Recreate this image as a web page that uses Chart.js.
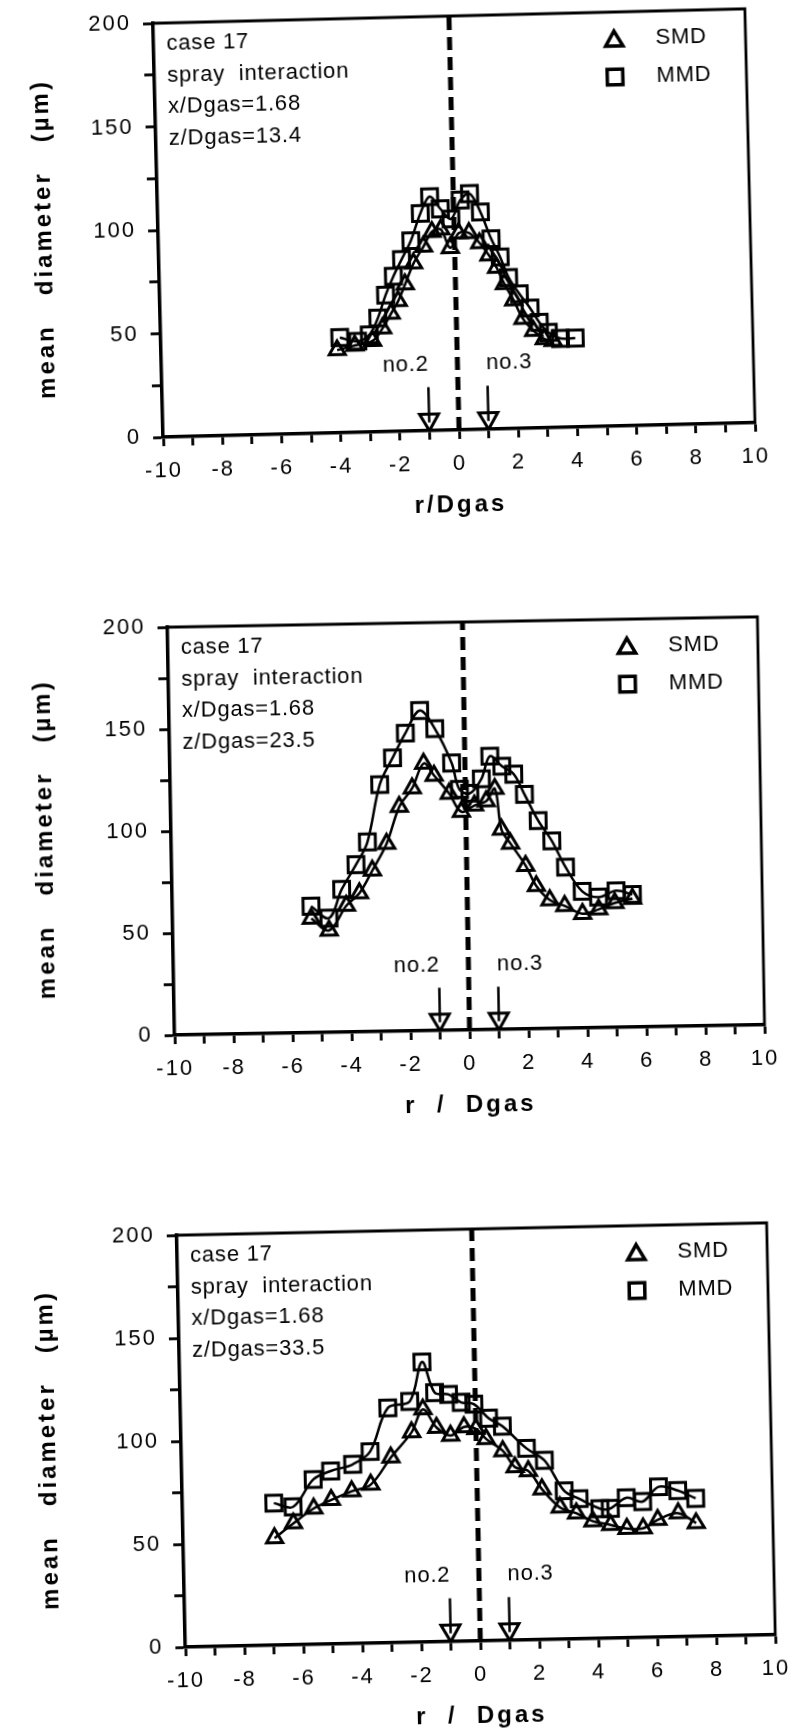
<!DOCTYPE html>
<html>
<head>
<meta charset="utf-8">
<script src="https://cdn.jsdelivr.net/npm/chart.js@4.4.1/dist/chart.umd.min.js"></script>
<style>
  body { margin: 0; background: #fff; width: 794px; height: 1729px; position: relative; overflow: hidden }
  canvas { position: absolute }
</style>
</head>
<body>
<canvas id="c1"></canvas>
<canvas id="c2"></canvas>
<canvas id="c3"></canvas>
<script>
// Axis labels
const xLabels = [-10, -8, -6, -4, -2, 0, 2, 4, 6, 8, 10]
const yLabels = [0, 50, 100, 150, 200]
const seriesNames = ['SMD', 'MMD']
const noteLines = ['case 17', 'spray  interaction', 'x/Dgas=1.68']
const zLines = ['z/Dgas=13.4', 'z/Dgas=23.5', 'z/Dgas=33.5']
const xTitles = ['r/Dgas', 'r  /  Dgas', 'r  /  Dgas']
const yTitle = 'mean   diameter   (\u00b5m)'

// probe markers (no.2 / no.3) and centre line
const probeNames = ['no.2', 'no.3']
const probeX = [-1, 1]
const probeLabelX = [-1.75, 1.75]
const probeLabelY = 32
const arrowTop = 21
const arrowEnd = 4
const arrowHead = 5.3

// panel 1: z/Dgas = 13.4
const r1Smd = [-4.05, -3.45, -2.85, -2.5, -2.2, -1.95, -1.7, -1.4, -1.05, -0.75, -0.45, -0.15, 0.15, 0.5, 0.85, 1.15, 1.4, 1.65, 1.95, 2.25, 2.6, 2.95, 3.25]
const d1Smd = [40, 42, 44, 50, 57, 63, 71, 81, 89, 96, 97, 88, 95, 95, 90, 84, 78, 70, 62, 53, 47, 43, 42]
const r1Mmd = [-3.95, -3.35, -2.95, -2.65, -2.37, -2.09, -1.8, -1.47, -1.13, -0.8, -0.45, -0.1, 0.23, 0.55, 0.9, 1.24, 1.53, 1.8, 2.15, 2.5, 2.8, 3.1, 3.5, 4.0]
const d1Mmd = [46, 44, 47, 55, 66, 75, 83, 92, 105, 113, 107, 102, 111, 114, 105, 92, 83, 73, 65, 58, 51, 46, 43, 43]

// panel 2: z/Dgas = 23.5
const r2Smd = [-5.3, -4.7, -4.1, -3.65, -3.2, -2.7, -2.25, -1.8, -1.4, -1.05, -0.55, -0.15, 0.3, 0.7, 1.0, 1.2, 1.5, 2.0, 2.35, 2.8, 3.3, 3.9, 4.45, 5.0, 5.6]
const d2Smd = [56, 50, 62, 68, 79, 92, 110, 119, 131, 125, 116, 107, 110, 112, 118, 98, 91, 80, 70, 63, 60, 56, 58, 61, 63]
const r2Mmd = [-5.3, -4.7, -4.25, -3.75, -3.35, -2.9, -2.45, -2.0, -1.5, -1.0, -0.45, -0.2, 0.15, 0.55, 0.85, 1.25, 1.65, 2.0, 2.45, 2.9, 3.35, 3.9, 4.45, 5.05, 5.6]
const d2Mmd = [62, 56, 70, 82, 93, 121, 134, 146, 157, 148, 131, 118, 116, 123, 134, 129, 125, 115, 102, 92, 79, 67, 64, 67, 65]

// panel 3: z/Dgas = 33.5
const r3Smd = [-6.9, -6.25, -5.55, -4.95, -4.25, -3.6, -2.9, -2.18, -1.78, -1.33, -0.86, -0.4, 0.0, 0.34, 0.9, 1.3, 1.75, 2.2, 2.8, 3.35, 3.9, 4.5, 5.05, 5.6, 6.1, 6.8, 7.4]
const d3Smd = [52, 59, 66, 70, 74, 77, 90, 102, 113, 104, 100, 104, 103, 98, 92, 84, 82, 73, 64, 61, 57, 55, 53, 53, 57, 60, 55]
const r3Mmd = [-6.9, -6.25, -5.55, -4.95, -4.2, -3.6, -2.97, -2.22, -1.78, -1.37, -0.9, -0.48, -0.05, 0.44, 0.9, 1.7, 2.3, 2.95, 3.45, 4.15, 4.5, 5.05, 5.6, 6.15, 6.8, 7.4]
const d3Mmd = [69, 67, 80, 84, 87, 93, 114, 117, 136, 121, 120, 116, 115, 108, 104, 93, 87, 72, 68, 63, 63, 68, 66, 73, 71, 67]

const FONT = '"Liberation Sans", Arial, Helvetica, sans-serif'
const LP = 150, TP = 30, HX = 96, BOT = 6

// page placement of each scanned panel (bottom-left corner, skew angle, y title x)
const panels = [
  { P0: [163, 437], ang: -1.4, W: 592, H: 414, titleX: 44, smd: [r1Smd, d1Smd], mmd: [r1Mmd, d1Mmd] },
  { P0: [175, 1035], ang: -1.0, W: 590, H: 408, titleX: 46, smd: [r2Smd, d2Smd], mmd: [r2Mmd, d2Mmd] },
  { P0: [185, 1647], ang: -1.2, W: 590, H: 412, titleX: 48, smd: [r3Smd, d3Smd], mmd: [r3Mmd, d3Mmd] }
]

const pts = (xs, ys) => xs.map((x, i) => ({ x, y: ys[i] }))

const decor = {
  id: 'decor',
  beforeDraw(chart) { chart.ctx.letterSpacing = '2px' },
  afterDraw(chart, args, o) {
    const { ctx, chartArea: a, scales: { x, y } } = chart
    ctx.save()
    ctx.strokeStyle = '#000'
    ctx.fillStyle = '#000'
    // top and right frame
    ctx.lineWidth = 2.8
    ctx.beginPath()
    ctx.moveTo(a.left - 1, a.top); ctx.lineTo(a.right, a.top); ctx.lineTo(a.right, a.bottom + 1)
    ctx.stroke()

    // case notes
    ctx.letterSpacing = '0.8px'
    ctx.font = '22px ' + FONT
    ctx.textAlign = 'left'
    ctx.textBaseline = 'middle'
    const lines = noteLines.concat([zLines[o.idx]])
    lines.forEach((t, i) => ctx.fillText(t, a.left + 13, a.top + 21 + i * 31.5))

    // probe labels
    ctx.textAlign = 'center'
    probeNames.forEach((t, i) => ctx.fillText(t, x.getPixelForValue(probeLabelX[i]), y.getPixelForValue(probeLabelY)))

    // legend
    const lx = a.left + 0.778 * (a.right - a.left)
    const tx = a.left + 0.848 * (a.right - a.left)
    const st = [{ pointStyle: 'triangle', radius: 10, rotation: 0, borderWidth: 3.5 }, { pointStyle: 'rect', radius: 11, rotation: 0, borderWidth: 3.5 }]
    ctx.textAlign = 'left'
    seriesNames.forEach((n, i) => {
      const ly = a.top + 27 + i * 38
      ctx.lineWidth = 3.5
      ctx.fillStyle = '#fff'
      Chart.helpers.drawPoint(ctx, st[i], lx, ly + (i === 0 ? 2 : 0))
      ctx.fillStyle = '#000'
      ctx.fillText(n, tx, ly)
    })

    // axis titles
    ctx.font = 'bold 24px ' + FONT
    ctx.letterSpacing = '3px'
    ctx.textAlign = 'center'
    ctx.fillText(xTitles[o.idx], (a.left + a.right) / 2, a.bottom + 75)
    ctx.translate(o.titleX, (a.top + a.bottom) / 2 + 6)
    ctx.rotate(-Math.PI / 2)
    ctx.fillText(yTitle, 0, 0)
    ctx.restore()
  }
}

function makeChart(p, i) {
  const cv = document.getElementById('c' + (i + 1))
  const CW = 794, CH = TP + p.H + HX + BOT
  cv.width = CW; cv.height = CH
  cv.style.width = CW + 'px'; cv.style.height = CH + 'px'
  const t = p.ang * Math.PI / 180
  const dx = -p.W / 2, dy = p.H / 2
  const cx = p.P0[0] - (dx * Math.cos(t) - dy * Math.sin(t))
  const cy = p.P0[1] - (dx * Math.sin(t) + dy * Math.cos(t))
  const left = cx - (LP + p.W / 2)
  cv.style.left = left + 'px'
  cv.style.top = (cy - (TP + p.H / 2)) + 'px'
  cv.style.transformOrigin = (LP + p.W / 2) + 'px ' + (TP + p.H / 2) + 'px'
  cv.style.transform = 'rotate(' + p.ang + 'deg)'

  const series = (xy, style, r) => ({
    data: pts(xy[0], xy[1]),
    borderColor: '#000', borderWidth: 2.5, tension: 0.35,
    pointStyle: style, pointRadius: r, pointBorderWidth: 3,
    pointBorderColor: '#000', pointBackgroundColor: 'rgba(255,255,255,0)'
  })

  const datasets = [
    series(p.smd, 'triangle', 9.3),
    series(p.mmd, 'rect', 11.2),
    { data: [{ x: 0, y: 0 }, { x: 0, y: 200 }], borderColor: '#000', borderWidth: 5, borderDash: [13, 7], pointRadius: 0 }
  ]
  probeX.forEach(px => {
    datasets.push({ data: [{ x: px, y: arrowTop }, { x: px, y: arrowEnd }], borderColor: '#000', borderWidth: 2.5, pointRadius: 0 })
    datasets.push({ data: [{ x: px, y: arrowHead }], showLine: false, pointStyle: 'triangle', rotation: 180, pointRadius: 11,
      pointBorderWidth: 3, pointBorderColor: '#000', pointBackgroundColor: 'rgba(255,255,255,0)' })
  })

  return new Chart(cv, {
    type: 'line',
    data: { datasets },
    plugins: [decor],
    options: {
      responsive: false, animation: false, events: [],
      layout: { padding: { left: 0, top: TP, right: CW - LP - p.W, bottom: BOT } },
      plugins: { legend: { display: false }, tooltip: { enabled: false }, decor: { idx: i, titleX: p.titleX - left } },
      scales: {
        x: {
          type: 'linear', min: -10, max: 10,
          afterFit: s => { s.height = HX },
          border: { display: true, color: '#000', width: 3.5 },
          grid: { drawOnChartArea: false, color: '#000', tickColor: '#000', tickLength: 9, tickWidth: 2.8 },
          ticks: { stepSize: 1, autoSkip: false, maxRotation: 0, padding: 12, color: '#000', font: { family: FONT, size: 22 },
            callback: v => xLabels.includes(v) ? String(v) : '' }
        },
        y: {
          min: 0, max: 200,
          afterFit: s => { s.width = LP },
          border: { display: true, color: '#000', width: 3.5 },
          grid: { drawOnChartArea: false, color: '#000', tickColor: '#000', tickLength: 10, tickWidth: 2.8 },
          ticks: { stepSize: 25, autoSkip: false, padding: 12, color: '#000', font: { family: FONT, size: 22 },
            callback: v => yLabels.includes(v) ? String(v) : '' }
        }
      }
    }
  })
}

document.addEventListener('DOMContentLoaded', () => panels.forEach(makeChart))
</script>
</body>
</html>
